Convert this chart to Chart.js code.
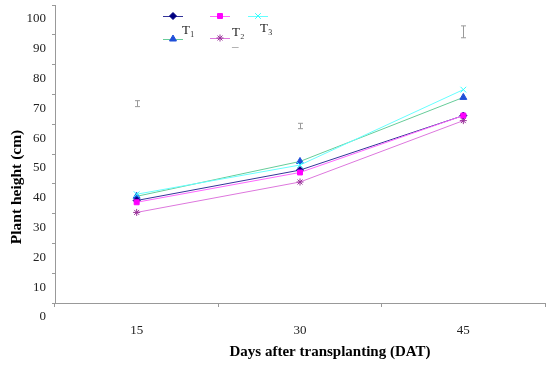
<!DOCTYPE html>
<html>
<head>
<meta charset="utf-8">
<script src="https://cdn.jsdelivr.net/npm/chart.js@4.4.1/dist/chart.umd.min.js"></script>
<style>
  html, body { margin: 0; padding: 0; background: #fff; }
  #wrap { width: 550px; height: 365px; position: relative; }
</style>
</head>
<body>
<div id="wrap"><canvas id="mainChart"></canvas></div>
<script>
// x categories (days after transplanting)
const days = ["15", "30", "45"];

// plant height (cm) per series
const navyDiamond = [34.4, 44.6, 62.9];
const blueTriangle = [35.8, 47.5, 69.0];
const magentaSquare = [33.8, 43.8, 62.9];
const purpleStar = [30.4, 40.6, 61.2];
const cyanCross = [36.5, 46.3, 71.6];

// floating grey error bars (low / high)
const errLow = [65.9, 58.5, 89.0];
const errHigh = [67.9, 60.3, 93.0];

// y axis
const yMin = 0, yMax = 100, yStep = 10;

// legend texts as they stand in the picture
const legendTexts = ["T\u2081", "T\u2082", "T\u2083", "\u2013"];

const serif = "'Liberation Serif', 'DejaVu Serif', serif";

function series(label, data, line, fill, stroke, style, radius) {
  return {
    label: label,
    data: data,
    borderColor: line,
    borderWidth: 1,
    pointStyle: style,
    pointRadius: radius,
    pointBackgroundColor: fill,
    pointBorderColor: stroke,
    pointBorderWidth: 1,
    tension: 0,
    fill: false
  };
}

// index 0 is drawn on top
const datasets = [
  series("square", magentaSquare, "#ff66ff", "#ff00ff", "#ff00ff", "rect", 3.5),
  series("diamond", navyDiamond, "#333399", "#000080", "#000080", "rectRot", 3.5),
  series("cross", cyanCross, "#66ffff", "#33ffff", "#33ffff", "crossRot", 4),
  series("triangle", blueTriangle, "#66cc99", "#1f4fd8", "#1f4fd8", "triangle", 4),
  series("star", purpleStar, "#dd77dd", "#993399", "#993399", "star", 3.5)
];

/* grey error bars, placed through the scales */
const errorBars = {
  id: "errorBars",
  afterDatasetsDraw(chart) {
    const { ctx, scales: { x, y } } = chart;
    ctx.save();
    ctx.strokeStyle = "#999";
    ctx.lineWidth = 1;
    days.forEach((d, i) => {
      const px = Math.round(x.getPixelForValue(i)) + 0.5;
      const top = y.getPixelForValue(errHigh[i]);
      const bot = y.getPixelForValue(errLow[i]);
      ctx.beginPath();
      ctx.moveTo(px, top); ctx.lineTo(px, bot);
      ctx.moveTo(px - 2.5, top); ctx.lineTo(px + 2.5, top);
      ctx.moveTo(px - 2.5, bot); ctx.lineTo(px + 2.5, bot);
      ctx.stroke();
    });
    ctx.restore();
  }
};

/* legend laid out like the original, plus axis titles */
const extras = {
  id: "extras",
  afterDraw(chart) {
    const ctx = chart.ctx;
    const slots = [
      { ds: 1, x: 173, y: 16 },
      { ds: 0, x: 220, y: 16 },
      { ds: 2, x: 258, y: 16 },
      { ds: 3, x: 173, y: 39 },
      { ds: 4, x: 220, y: 38 }
    ];
    ctx.save();
    slots.forEach(s => {
      const d = chart.data.datasets[s.ds];
      ctx.strokeStyle = d.borderColor;
      ctx.lineWidth = 1;
      ctx.beginPath();
      ctx.moveTo(s.x - 10, s.y + 0.5);
      ctx.lineTo(s.x + 10, s.y + 0.5);
      ctx.stroke();
      ctx.fillStyle = d.pointBackgroundColor;
      ctx.strokeStyle = d.pointBorderColor;
      Chart.helpers.drawPoint(ctx, {
        pointStyle: d.pointStyle, radius: d.pointRadius, rotation: 0, borderWidth: 1
      }, s.x, s.y);
    });

    ctx.fillStyle = "#222";
    ctx.font = "13px " + serif;
    ctx.textBaseline = "middle";
    ctx.textAlign = "left";
    ctx.fillText(legendTexts[0], 182, 31);
    ctx.fillText(legendTexts[1], 232, 33);
    ctx.fillText(legendTexts[2], 260, 29);
    ctx.fillStyle = "#888";
    ctx.fillText(legendTexts[3], 232, 47);

    ctx.fillStyle = "#000";
    ctx.font = "bold 15px " + serif;
    ctx.textAlign = "center";
    ctx.fillText("Days after transplanting (DAT)", 330, 352);
    ctx.translate(17, 187);
    ctx.rotate(-Math.PI / 2);
    ctx.font = "bold 15.5px " + serif;
    ctx.fillText("Plant height (cm)", 0, 0);
    ctx.restore();
  }
};

new Chart(document.getElementById("mainChart"), {
  type: "line",
  data: { labels: days, datasets: datasets },
  options: {
    responsive: true,
    maintainAspectRatio: false,
    animation: false,
    layout: { padding: { top: 4, right: 5, left: 0, bottom: 0 } },
    plugins: { legend: { display: false }, tooltip: { enabled: false } },
    scales: {
      x: {
        type: "category",
        offset: true,
        grid: { offset: true, drawOnChartArea: false, drawTicks: true, tickLength: 4, color: "#999" },
        border: { color: "#999" },
        ticks: { color: "#222", font: { family: serif, size: 13 }, padding: 16, maxRotation: 0 },
        afterFit(scale) { scale.height = 62; scale.paddingLeft = 0; scale.paddingRight = 0; }
      },
      y: {
        min: yMin,
        max: yMax,
        grid: { drawOnChartArea: false, drawTicks: true, tickLength: 3, color: "#999" },
        border: { color: "#999" },
        ticks: { stepSize: yStep, color: "#222", font: { family: serif, size: 13 }, padding: 6, labelOffset: 14 },
        afterFit(scale) { scale.width = 55; scale.paddingTop = 0; scale.paddingBottom = 0; }
      }
    }
  },
  plugins: [errorBars, extras]
});
</script>
</body>
</html>
